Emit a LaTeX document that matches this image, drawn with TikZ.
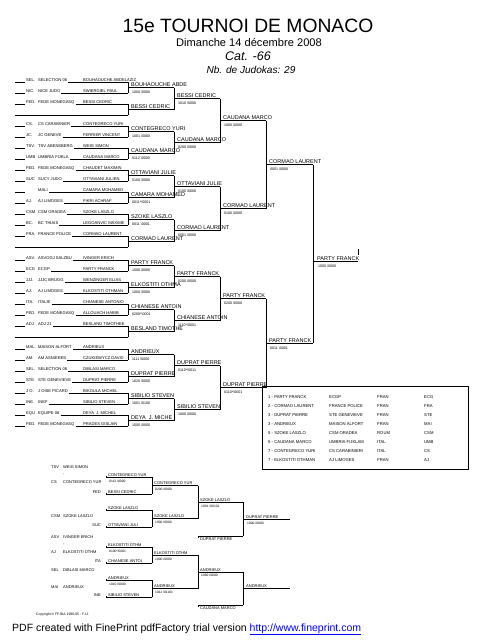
\documentclass[tikz,border=0pt]{standalone}
\usepackage{fontspec}
\setmainfont{Liberation Sans}
\tikzset{
  entry/.style={anchor=base west,inner sep=0pt,font=\fontsize{4.1}{5}\selectfont},
  winner/.style={anchor=base west,inner sep=0pt,font=\fontsize{5.5}{6}\selectfont},
  score/.style={anchor=base west,inner sep=0pt,font=\fontsize{3.6}{4}\selectfont},
  rep/.style={anchor=base west,inner sep=0pt,font=\fontsize{4}{5}\selectfont},
  repscore/.style={anchor=base west,inner sep=0pt,font=\fontsize{3.3}{4}\selectfont},
  tab/.style={anchor=base west,inner sep=0pt,font=\fontsize{4.2}{5}\selectfont},
  hline/.style={line width=0.5pt},
  vline/.style={line width=0.9pt},
}
\begin{document}
\begin{tikzpicture}[x=1pt,y=-1pt]
\useasboundingbox (0,0) rectangle (495,640);

% header
\node[anchor=base,inner sep=0pt,font=\fontsize{19.3}{20}\selectfont] (title) at (248,32) {15e TOURNOI DE MONACO};
\node[anchor=base,inner sep=0pt,font=\fontsize{11.1}{12}\selectfont] (date) at (249,46.5) {Dimanche 14 décembre 2008};
\node[anchor=base,inner sep=0pt,font=\fontsize{12.5}{13}\selectfont\itshape] (cat) at (248,60.5) {Cat. -66};
\node[anchor=base,inner sep=0pt,font=\fontsize{10.1}{11}\selectfont\itshape] (nb) at (251,73.5) {Nb. de Judokas: 29};

% main draw, entries
\foreach \y/\code/\club/\name [count=\i] in {
  82/SEL./SELECTION 06/BOUHAOUCHE ABDELAZIZ, 93/NIC./NICE JUDO/SWIERGIEL PAUL,
  104/FED./FEDE MONEGASQ/BESSI CEDRIC, 126/CS./CS CARABINIER/CONTEGRECO YURI,
  137/JC./JC GENEVE/FERRIER VINCENT, 148/TSV./TSV ABENSBERG/WEIG SIMON,
  159/UMB/UMBRIA FIJKLA/CAUDANA MARCO, 170/FED./FEDE MONEGASQ/CHAUDET MAXIMIN,
  181/SUC/SUCY JUDO/OTTAVIANI JULIEN, 192/{}/MALI/CAMARA MOHAMED,
  203/AJ./AJ LIMOGES/FIKRI ACHRAF, 214/CSM/CSM ORADEA/SZOKE LASZLO,
  225/BC./BC THIAIS/LEGOANVIC MAXIME, 236/FRA./FRANCE POLICE/CORMAO LAURENT,
  260/ASV./ASVOGJ SALZBU/IVINGER ERICH, 271/ECG/ECGP/PARTY FRANCK,
  282/JJJ./JJJC BRUGG/WENZINGER ELIAS, 293/AJ./AJ LIMOGES/ELKOSTITI OTHMAN,
  304/ITA./ITALIE/CHIANESE ANTONIO, 315/FED./FEDE MONEGASQ/ALLOUACH HABIB,
  326/ADJ./ADJ 21/BESLAND TIMOTHEE, 349/MAL./MAISON ALFORT/ANDRIEUX,
  360/AM./AM ASNIERES/CZUKIEWYCZ DAVID, 371/SEL./SELECTION 06/DIBLASI MARCO,
  382/STE./STE GENEVIEVE/DUPRAT PIERRE, 393/J O./J OISE PICARD/BIKOULA MICHEL,
  404/INE./INEF/SIBILIO STEVEN, 415/EQU/EQUIPE 06/DEYA\ \ J. MICHEL,
  426/FED./FEDE MONEGASQ/PRADES GISLAIN}{
  \draw[hline] (15,\y) -- (25,\y);
  \node[entry] (code\i) at (26,\y-0.6) {\code};
  \node[entry] (club\i) at (38,\y-0.6) {\club};
  \node[entry] (name\i) at (83,\y-0.6) {\name};
  \draw[hline] ([shift={(1,0.6)}]club\i.base east) -- (128,\y);
}
% byes
\draw[hline] (15,115) -- (128,115);
\draw[hline] (15,247) -- (128,247);
\draw[hline] (15,337) -- (128,337);

% round 1
\foreach \ya/\who/\res [count=\i] in {
  82/BOUHAOUCHE ABDE/1000 \textbackslash0000, 104/BESSI CEDRIC/{},
  126/CONTEGRECO YURI/1001 \textbackslash0000, 148/CAUDANA MARCO/0112 \textbackslash0000,
  170/OTTAVIANI JULIE/0100 \textbackslash0000, 192/CAMARA MOHAMED/0011*\textbackslash0001,
  214/SZOKE LASZLO/0011 \textbackslash0001, 236/CORMAO LAURENT/{},
  260/PARTY FRANCK/1000 \textbackslash0000, 282/ELKOSTITI OTHMA/1000 \textbackslash0000,
  304/CHIANESE ANTOIN/0200*\textbackslash0001, 326/BESLAND TIMOTHE/{},
  349/ANDRIEUX/1111 \textbackslash0000, 371/DUPRAT PIERRE/1020 \textbackslash0000,
  393/SIBILIO STEVEN/1001 \textbackslash0100, 415/DEYA\ \ J. MICHE/1000 \textbackslash0000}{
  \pgfmathsetmacro\ym{\ya+5.5}
  \draw[vline] (128,\ya) -- (128,\ya+11);
  \draw[hline] (128,\ym) -- (174,\ym);
  \node[winner] (ra\i) at (131,\ym-0.6) {\who};
  \node[score] at (132,\ym+6) {\res};
}

% round 2
\foreach \ya/\yb/\who/\res [count=\i] in {
  87.5/109.5/BESSI CEDRIC/1010 \textbackslash0000, 131.5/153.5/CAUDANA MARCO/0200 \textbackslash0000,
  175.5/197.5/OTTAVIANI JULIE/0100 \textbackslash0000, 219.5/241.5/CORMAO LAURENT/0001 \textbackslash0000,
  265.5/287.5/PARTY FRANCK/0200 \textbackslash0000, 309.5/331.5/CHIANESE ANTOIN/1110*\textbackslash0001,
  354.5/376.5/DUPRAT PIERRE/0110*\textbackslash0011, 398.5/420.5/SIBILIO STEVEN/1000 \textbackslash0000}{
  \pgfmathsetmacro\ym{(\ya+\yb)/2}
  \draw[vline] (174,\ya) -- (174,\yb);
  \draw[hline] (174,\ym) -- (220,\ym);
  \node[winner] (rb\i) at (177,\ym-0.6) {\who};
  \node[score] at (178,\ym+6) {\res};
}

% round 3
\foreach \ya/\yb/\who/\res [count=\i] in {
  98.5/142.5/CAUDANA MARCO/1000 \textbackslash0000, 186.5/230.5/CORMAO LAURENT/0100 \textbackslash0000,
  276.5/320.5/PARTY FRANCK/0200 \textbackslash0000, 365.5/409.5/DUPRAT PIERRE/0110*\textbackslash0001}{
  \pgfmathsetmacro\ym{(\ya+\yb)/2}
  \draw[vline] (220,\ya) -- (220,\yb);
  \draw[hline] (220,\ym) -- (266,\ym);
  \node[winner] (rc\i) at (223,\ym-0.6) {\who};
  \node[score] at (224,\ym+6) {\res};
}

% semi finals
\foreach \ya/\yb/\who/\res [count=\i] in {
  120.5/208.5/CORMAO LAURENT/0001 \textbackslash0000, 298.5/387.5/PARTY FRANCK/0011 \textbackslash0001}{
  \pgfmathsetmacro\ym{(\ya+\yb)/2}
  \draw[vline] (266,\ya) -- (266,\yb);
  \draw[hline] (266,\ym) -- (313,\ym);
  \node[winner] (rd\i) at (269,\ym-0.6) {\who};
  \node[score] at (270,\ym+6) {\res};
}

% final
\draw[vline] (313,164.5) -- (313,343);
\draw[hline] (313,261) -- (358,261);
\draw[hline] (358,249) -- (358,255);
\node[winner] (champ) at (317,260.4) {PARTY FRANCK};
\node[score] at (318,267) {1000 \textbackslash0000};

% results
\draw[hline] (262,386) rectangle (468,469);
\foreach \rk/\who/\club/\land/\cc [count=\i] in {
  1/PARTY FRANCK/ECGP/FRAN/ECG, 2/CORMAO LAURENT/FRANCE POLICE/FRAN/FRA,
  3/DUPRAT PIERRE/STE GENEVIEVE/FRAN/STE, 3/ANDRIEUX/MAISON ALFORT/FRAN/MAI,
  5/SZOKE LASZLO/CSM ORADEA/ROUM/CSM, 5/CAUDANA MARCO/UMBRIA FIJKLAM/ITAL/UMB,
  7/CONTEGRECO YURI/CS CARABINIERI/ITAL/CS, 7/ELKOSTITI OTHMAN/AJ LIMOGES/FRAN/AJ}{
  \node[tab] (rank\i) at (268,389+9*\i) {\rk\ - \who};
  \node[tab] at (329,389+9*\i) {\club};
  \node[tab] at (377,389+9*\i) {\land};
  \node[tab] at (424,389+9*\i) {\cc};
}

% repechages
\foreach \y/\code/\who [count=\i] in {
  468.5/TSV/WEIG SIMON, 483.5/CS/CONTEGRECO YUR, 517.5/CSM/SZOKE LASZLO,
  538.5/ASV/IVINGER ERICH, 553.5/AJ/ELKOSTITI OTHM, 571.5/SEL/DIBLASI MARCO,
  588.5/MAI/ANDRIEUX}{
  \node[rep] (rcode\i) at (51,\y) {\code};
  \node[rep] (rname\i) at (63,\y) {\who};
}
\node[rep] at (63,475.5) {-};
\node[rep] at (63,545.5) {-};

\foreach \y/\who/\res/\code [count=\i] in {
  477/CONTEGRECO YUR/0112 \slash0000/{}, 494/BESSI CEDRIC/{}/FED,
  510/SZOKE LASZLO/{}/{}, 527/OTTAVIANI JULI/{}/SUC,
  547/ELKOSTITI OTHM/0100*\slash0001/{}, 563/CHIANESE ANTOI/{}/ITA,
  580/ANDRIEUX/1010 \slash0000/{}, 597/SIBILIO STEVEN/{}/INE}{
  \draw[hline] (106,\y-1.5) -- (106,\y) -- (152,\y);
  \node[rep] (pool\i) at (108,\y-0.6) {\who};
  \node[repscore] at (109,\y+5) {\res};
  \node[rep,anchor=base east] at (101,\y-0.6) {\code};
}
\foreach \ya/\yb in {477/494, 510/527, 547/563, 580/597}
  \draw[vline] (152,\ya) -- (152,\yb);

\foreach \ym/\who/\res [count=\i] in {
  485.5/CONTEGRECO YUR/0200 \slash0000, 518.5/SZOKE LASZLO/1000 \slash0000,
  555/ELKOSTITI OTHM/1000 \slash0000, 588.5/ANDRIEUX/1011 \slash01101}{
  \draw[hline] (152,\ym) -- (198,\ym);
  \node[rep] (rp\i) at (154,\ym-0.6) {\who};
  \node[repscore] at (155,\ym+5) {\res};
}
\draw[vline] (198,485.5) -- (198,518.5);
\draw[vline] (198,555) -- (198,588.5);
\draw[hline] (198,502) -- (243,502);
\node[rep] (rq1) at (200,501.4) {SZOKE LASZLO};
\node[repscore] at (201,507) {1001 \slash00101};
\draw[hline] (198,571.75) -- (243,571.75);
\node[rep] (rq2) at (200,571.15) {ANDRIEUX};
\node[repscore] at (201,576.75) {1000 \slash0000};

% losers of the semi finals
\draw[hline] (198,538) -- (198,536) -- (243,536);
\node[rep] (semi1) at (200,540) {DUPRAT PIERRE};
\draw[hline] (198,607) -- (198,605) -- (243,605);
\node[rep] (semi2) at (200,609) {CAUDANA MARCO};

\draw[vline] (243,502) -- (243,536);
\draw[vline] (243,571.75) -- (243,605);
\draw[hline] (243,519) -- (290,519);
\node[rep] (bronze1) at (246,518.4) {DUPRAT PIERRE};
\node[repscore] at (247,524) {1000 \slash0000};
\draw[hline] (243,588.4) -- (290,588.4);
\node[rep] (bronze2) at (246,587.8) {ANDRIEUX};

% footer
\node[anchor=base west,inner sep=0pt,font=\fontsize{3.4}{4}\selectfont] (copy) at (36,615.5) {Copyright © FFJDA 1996-05 - F.I.J.};
\node[anchor=base west,inner sep=0pt,font=\fontsize{10.5}{11}\selectfont] (pdf) at (12,631) {PDF created with FinePrint pdfFactory trial version \textcolor{blue}{\underline{http://www.fineprint.com}}};
\end{tikzpicture}
\end{document}
